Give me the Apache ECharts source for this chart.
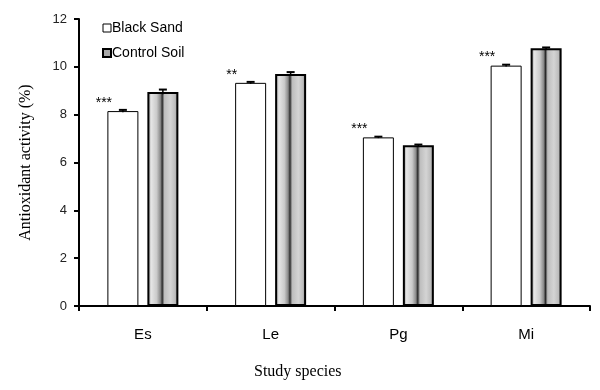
<!DOCTYPE html>
<html>
<head>
<meta charset="utf-8">
<script src="https://cdn.jsdelivr.net/npm/echarts@6/dist/echarts.min.js"></script>
<style>
  html, body { margin: 0; padding: 0; background: #fff; }
  #chart { width: 600px; height: 390px; }
</style>
</head>
<body>
<div id="chart"></div>
<script>
// values
const species = ['Es', 'Le', 'Pg', 'Mi'];
const blackSand = [8.15, 9.33, 7.05, 10.05];
const controlSoil = [8.95, 9.7, 6.72, 10.78];
const blackSandErr = [0.05, 0.04, 0.03, 0.04];
const controlSoilErr = [0.1, 0.08, 0.03, 0.03];
const stars = ['***', '**', '***', '***'];
const yTicks = [0, 2, 4, 6, 8, 10, 12];

const barW = 31;
const pairShift = 20; // half of (bar width + gap)

const chart = echarts.init(document.getElementById('chart'));

function greyFill() {
    return {
        type: 'linear',
        x: 0, y: 0, x2: 1, y2: 0,
        colorStops: [
            { offset: 0, color: '#7a7a7a' },
            { offset: 0.12, color: '#e6e6e6' },
            { offset: 0.3, color: '#cacaca' },
            { offset: 0.42, color: '#8a8a8a' },
            { offset: 0.48, color: '#2a2a2a' },
            { offset: 0.55, color: '#bdbdbd' },
            { offset: 0.75, color: '#d4d4d4' },
            { offset: 0.9, color: '#bcbcbc' },
            { offset: 1, color: '#6a6a6a' }
        ]
    };
}

function errorSeries(vals, errs, shift) {
    return {
        type: 'custom',
        silent: true,
        z: 5,
        data: vals.map((v, i) => [i, v, errs[i]]),
        renderItem: function (params, api) {
            const i = api.value(0);
            const v = api.value(1);
            const e = api.value(2);
            const hi = api.coord([i, v + e]);
            const lo = api.coord([i, v - e]);
            const x = hi[0] + shift;
            return {
                type: 'group',
                children: [
                    { type: 'line', shape: { x1: x, y1: lo[1], x2: x, y2: hi[1] },
                      style: { stroke: '#000', lineWidth: 1.5 } },
                    { type: 'line', shape: { x1: x - 4, y1: hi[1], x2: x + 4, y2: hi[1] },
                      style: { stroke: '#000', lineWidth: 2 } }
                ]
            };
        }
    };
}

const option = {
    animation: false,
    backgroundColor: '#fff',
    grid: { left: 79, right: 10, top: 19, bottom: 84 },
    legend: {
        orient: 'vertical',
        left: 97,
        top: 16,
        itemGap: 11,
        itemWidth: 8,
        itemHeight: 8,
        textStyle: { fontFamily: 'Arial, Liberation Sans', fontSize: 14, color: '#000', padding: [0, 0, 0, -4] },
        data: [
            { name: 'Black Sand', icon: 'rect', itemStyle: { color: '#fff', borderColor: '#000', borderWidth: 1 } },
            { name: 'Control Soil', icon: 'rect', itemStyle: { color: '#aaa', borderColor: '#000', borderWidth: 2 } }
        ]
    },
    xAxis: {
        type: 'category',
        data: species,
        axisLine: { lineStyle: { color: '#000', width: 2 } },
        axisTick: { show: true, length: 5, lineStyle: { color: '#000', width: 2 } },
        axisLabel: { fontFamily: 'Arial, Liberation Sans', fontSize: 15, color: '#000', margin: 21 }
    },
    yAxis: {
        type: 'value',
        min: yTicks[0],
        max: yTicks[yTicks.length - 1],
        interval: 2,
        name: 'Antioxidant activity (%)',
        nameLocation: 'middle',
        nameGap: 45,
        nameTextStyle: { fontFamily: 'Times New Roman, Liberation Serif', fontSize: 16, color: '#000' },
        splitLine: { show: false },
        axisLine: { show: true, lineStyle: { color: '#000', width: 2 } },
        axisTick: { show: true, length: 5, lineStyle: { color: '#000', width: 2 } },
        axisLabel: { fontFamily: 'Arial, Liberation Sans', fontSize: 13, color: '#222', margin: 12 }
    },
    series: [
        {
            name: 'Black Sand',
            type: 'bar',
            data: blackSand,
            barWidth: barW,
            barGap: '29%',
            itemStyle: { color: '#fff', borderColor: '#000', borderWidth: 1 },
            label: {
                show: true,
                position: 'top',
                offset: [-19, 4],
                formatter: p => stars[p.dataIndex],
                fontFamily: 'Arial, Liberation Sans',
                fontSize: 14,
                color: '#000'
            }
        },
        {
            name: 'Control Soil',
            type: 'bar',
            data: controlSoil.map(v => ({ value: v, itemStyle: { color: greyFill() } })),
            barWidth: barW,
            itemStyle: { color: '#bbb', borderColor: '#000', borderWidth: 2 }
        },
        errorSeries(blackSand, blackSandErr, -pairShift),
        errorSeries(controlSoil, controlSoilErr, pairShift)
    ],
    graphic: [
        {
            type: 'text',
            left: 254,
            top: 364,
            style: { text: 'Study species', fontFamily: 'Times New Roman, Liberation Serif', fontSize: 16, fill: '#000' }
        }
    ]
};

chart.setOption(option);
</script>
</body>
</html>
